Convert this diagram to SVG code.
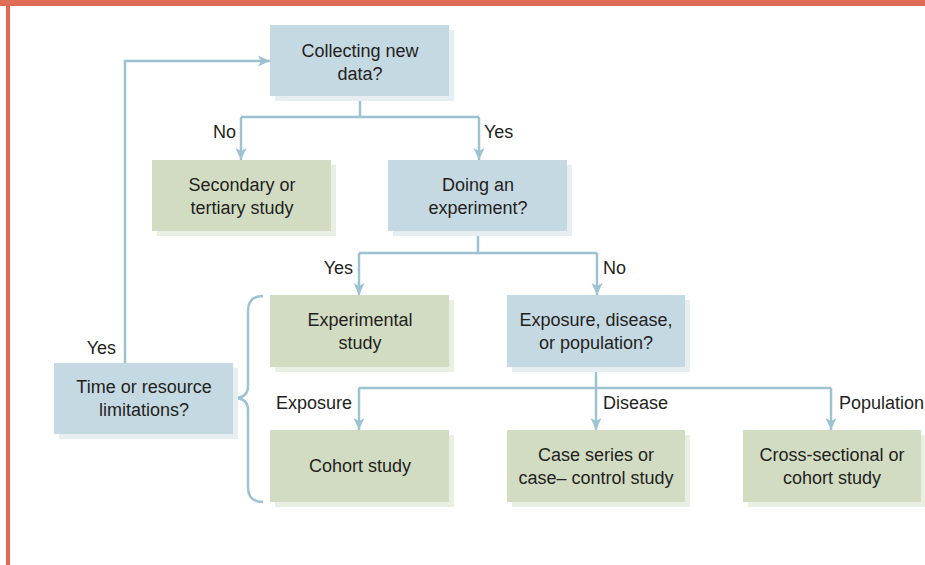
<svg xmlns="http://www.w3.org/2000/svg" width="925" height="565" viewBox="0 0 925 565">
<defs>
<style>
.q{fill:#c5d9e3}
.qs{fill:#e6eef2}
.s{fill:#d2dcc3}
.ss{fill:#eaefe3}
text{font-family:"Liberation Sans",Arial,sans-serif;font-size:18px;fill:#231f20}
.c{text-anchor:middle}
.ln{fill:none;stroke:#9dc3d3;stroke-width:2.5}
</style>
<marker id="ah" markerWidth="13" markerHeight="12" refX="12" refY="6" orient="auto" markerUnits="userSpaceOnUse">
<path d="M0,0.5 L12,6 L0,11.5 L3,6 Z" fill="#9dc3d3"/>
</marker>
</defs>
<rect x="0" y="0" width="925" height="565" fill="#fff"/>
<rect x="0" y="0" width="925" height="6" fill="#e06b56"/>
<rect x="6" y="0" width="4" height="565" fill="#e06b56"/>

<g id="connectors">
<path class="ln" d="M125,363 V61 H270" marker-end="url(#ah)"/>
<path class="ln" d="M360,96 V117"/>
<path class="ln" d="M241,117 H479"/>
<path class="ln" d="M241,117 V160" marker-end="url(#ah)"/>
<path class="ln" d="M479,117 V160" marker-end="url(#ah)"/>
<path class="ln" d="M478,231 V253"/>
<path class="ln" d="M359,253 H597"/>
<path class="ln" d="M359,253 V295" marker-end="url(#ah)"/>
<path class="ln" d="M597,253 V295" marker-end="url(#ah)"/>
<path class="ln" d="M596,367 V388"/>
<path class="ln" d="M359,388 H831"/>
<path class="ln" d="M359,388 V430" marker-end="url(#ah)"/>
<path class="ln" d="M596,388 V430" marker-end="url(#ah)"/>
<path class="ln" d="M831,388 V430" marker-end="url(#ah)"/>
<path class="ln" d="M263,296 Q248,296 248,311 V386 Q248,398 234,398 Q248,398 248,410 V487 Q248,502 263,502"/>
<text x="236" y="138" text-anchor="end">No</text>
<text x="484" y="138">Yes</text>
<text x="353" y="274" text-anchor="end">Yes</text>
<text x="603" y="274">No</text>
<text x="116" y="354" text-anchor="end">Yes</text>
<text x="352" y="409" text-anchor="end">Exposure</text>
<text x="603" y="409">Disease</text>
<text x="839" y="409">Population</text>
</g>

<g id="collecting">
<rect class="qs" x="275" y="30" width="179" height="71"/>
<rect class="q" x="270" y="25" width="179" height="71"/>
<text class="c" x="360" y="57">Collecting new</text>
<text class="c" x="360" y="80">data?</text>
</g>
<g id="secondary">
<rect class="ss" x="157" y="165" width="179" height="71"/>
<rect class="s" x="152" y="160" width="179" height="71"/>
<text class="c" x="242" y="191">Secondary or</text>
<text class="c" x="242" y="214">tertiary study</text>
</g>
<g id="experiment">
<rect class="qs" x="393" y="165" width="179" height="71"/>
<rect class="q" x="388" y="160" width="179" height="71"/>
<text class="c" x="478" y="191">Doing an</text>
<text class="c" x="478" y="214">experiment?</text>
</g>
<g id="experimental">
<rect class="ss" x="275" y="300" width="179" height="72"/>
<rect class="s" x="270" y="295" width="179" height="72"/>
<text class="c" x="360" y="326">Experimental</text>
<text class="c" x="360" y="349">study</text>
</g>
<g id="exposure">
<rect class="qs" x="512" y="300" width="178" height="72"/>
<rect class="q" x="507" y="295" width="178" height="72"/>
<text class="c" x="596" y="326">Exposure, disease,</text>
<text class="c" x="596" y="349">or population?</text>
</g>
<g id="time">
<rect class="qs" x="59" y="368" width="179" height="71"/>
<rect class="q" x="54" y="363" width="179" height="71"/>
<text class="c" x="144" y="393">Time or resource</text>
<text class="c" x="144" y="416">limitations?</text>
</g>
<g id="cohort">
<rect class="ss" x="275" y="435" width="179" height="72"/>
<rect class="s" x="270" y="430" width="179" height="72"/>
<text class="c" x="360" y="472">Cohort study</text>
</g>
<g id="casecontrol">
<rect class="ss" x="512" y="435" width="178" height="72"/>
<rect class="s" x="507" y="430" width="178" height="72"/>
<text class="c" x="596" y="461">Case series or</text>
<text class="c" x="596" y="484">case– control study</text>
</g>
<g id="crosssectional">
<rect class="ss" x="748" y="435" width="178" height="72"/>
<rect class="s" x="743" y="430" width="178" height="72"/>
<text class="c" x="832" y="461">Cross-sectional or</text>
<text class="c" x="832" y="484">cohort study</text>
</g>
</svg>
